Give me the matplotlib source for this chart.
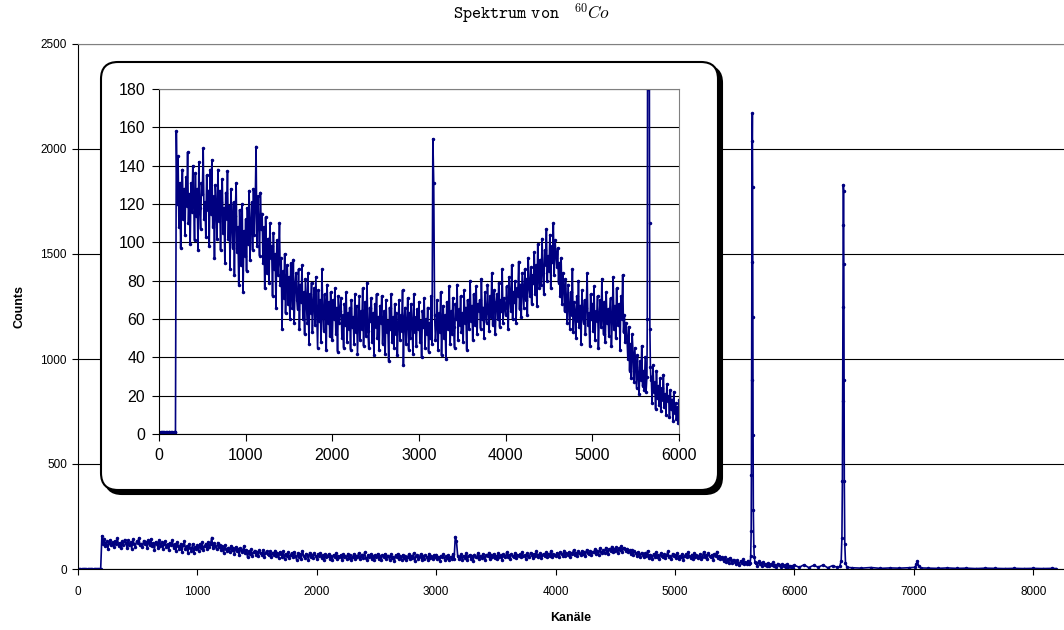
import numpy as np
import matplotlib
matplotlib.use('Agg')
import matplotlib.pyplot as plt
from matplotlib.patches import FancyBboxPatch

plt.rcParams['font.family'] = ['Liberation Sans', 'DejaVu Sans']
plt.rcParams['mathtext.fontset'] = 'cm'

# --- spectrum (channel -> counts) ---
# below threshold, channels 0..190
zero_ch = np.arange(0, 200, 10)
zero_counts = [1, 0, 1, 1, 0, 1, 1, 0, 1, 1, 0, 1, 1, 0, 1, 1, 0, 1, 1, 1]

# continuum, channels 200..5620 every 10 (noisy, one row = 100 channels)
cont_ch = np.arange(200, 5630, 10)
cont_counts = [
    158, 120, 145, 108, 131, 97, 124, 138, 112, 128,
    104, 134, 119, 147, 110, 125, 99, 131, 116, 140,
    122, 101, 136, 114, 128, 96, 142, 118, 107, 131,
    125, 149, 112, 121, 103, 135, 117, 127, 98, 138,
    115, 143, 108, 124, 92, 130, 119, 102, 138, 111,
    127, 96, 121, 133, 105, 118, 89, 126, 112, 137,
    102, 119, 86, 128, 110, 97, 121, 83, 114, 131,
    95, 108, 78, 117, 101, 88, 120, 74, 106, 93,
    112, 85, 118, 99, 127, 91, 109, 121, 96, 128,
    104, 119, 150, 98, 124, 111, 93, 126, 107, 115,
    89, 108, 76, 113, 95, 84, 102, 79, 110, 92,
    98, 72, 105, 86, 94, 66, 101, 83, 90, 110,
    78, 92, 55, 85, 71, 94, 63, 80, 88, 68,
    82, 60, 89, 74, 66, 91, 58, 77, 84, 70,
    65, 86, 55, 78, 69, 88, 60, 74, 52, 81,
    70, 58, 84, 47, 73, 63, 79, 53, 68, 76,
    57, 82, 64, 45, 75, 59, 70, 48, 86, 62,
    54, 73, 66, 44, 78, 58, 69, 51, 74, 63,
    49, 70, 60, 76, 52, 66, 43, 72, 58, 64,
    71, 50, 62, 45, 68, 57, 74, 48, 63, 55,
    66, 44, 70, 56, 61, 47, 73, 53, 67, 42,
    58, 72, 49, 64, 55, 76, 46, 62, 69, 51,
    79, 54, 45, 66, 59, 71, 48, 63, 41, 68,
    56, 73, 50, 61, 44, 67, 58, 72, 47, 60,
    64, 42, 70, 53, 59, 38, 66, 55, 73, 48,
    61, 45, 68, 52, 63, 41, 57, 70, 49, 62,
    54, 75, 36, 60, 66, 47, 58, 71, 44, 63,
    50, 68, 57, 42, 73, 53, 61, 46, 65, 55,
    69, 48, 59, 40, 64, 56, 71, 45, 60, 52,
    66, 43, 58, 50, 72, 47, 154, 131, 62, 49,
    57, 70, 44, 63, 53, 74, 41, 60, 67, 50,
    62, 39, 69, 55, 58, 77, 47, 64, 52, 71,
    56, 45, 68, 60, 78, 49, 65, 57, 72, 53,
    63, 48, 75, 58, 66, 44, 70, 61, 55, 80,
    59, 67, 49, 73, 62, 57, 77, 52, 68, 64,
    70, 55, 81, 60, 66, 50, 74, 63, 58, 78,
    65, 54, 72, 61, 84, 57, 69, 75, 52, 67,
    73, 60, 79, 56, 70, 64, 86, 58, 71, 66,
    62, 77, 68, 55, 82, 71, 64, 88, 60, 74,
    69, 80, 58, 76, 72, 90, 65, 78, 61, 84,
    75, 66, 86, 70, 81, 62, 92, 77, 72, 87,
    68, 83, 79, 95, 73, 88, 67, 99, 82, 76,
    91, 78, 102, 84, 73, 96, 88, 107, 80, 93,
    85, 104, 76, 98, 90, 110, 83, 101, 94, 87,
    97, 79, 89, 72, 92, 68, 84, 76, 64, 81,
    71, 58, 78, 66, 55, 74, 62, 86, 53, 69,
    64, 50, 72, 59, 80, 56, 67, 47, 75, 61,
    58, 70, 52, 66, 84, 57, 63, 46, 73, 60,
    68, 54, 77, 49, 64, 59, 72, 45, 62, 70,
    56, 81, 60, 52, 69, 48, 74, 58, 65, 51,
    63, 71, 46, 59, 82, 55, 67, 50, 76, 61,
    57, 68, 44, 72, 60, 83, 53, 62, 48, 58,
    50, 39, 56, 33, 47, 29, 52, 42, 27, 45,
    35, 24, 41, 30, 21, 38, 28, 46, 25, 33,
    23, 40, 22,
]

# first photo peak
peak1_ch = [5630, 5634, 5638, 5640, 5642, 5644, 5646, 5648, 5650, 5652, 5654, 5656, 5660, 5664, 5670, 5676]
peak1_counts = [30, 60, 180, 450, 900, 1460, 2040, 2170, 1820, 1200, 640, 280, 110, 55, 35, 28]

# between the peaks
after1_ch = np.arange(5680, 6000, 10)
after1_counts = [
    30, 16, 36, 22, 27, 13, 33, 19, 25, 15,
    29, 12, 24, 18, 31, 14, 21, 10, 26, 17,
    20, 9, 23, 13, 18, 7, 22, 11, 16, 8,
    14, 6,
]
mid_ch = np.arange(6000, 6400, 40)
mid_counts = [18, 8, 20, 7, 17, 9, 19, 6, 16, 8]

# second photo peak
peak2_ch = [6380, 6392, 6398, 6402, 6404, 6406, 6408, 6410, 6412, 6414, 6416, 6418, 6422, 6428, 6440]
peak2_counts = [12, 40, 150, 420, 800, 1250, 1640, 1830, 1800, 1450, 900, 420, 120, 30, 8]

# tail with small sum peak
tail_ch = [6480, 6560, 6640, 6720, 6800, 6880, 6960, 7010, 7020, 7030, 7040, 7060, 7120, 7200,
           7280, 7360, 7440, 7520, 7600, 7680, 7760, 7840, 7920, 8000, 8080, 8160, 8190]
tail_counts = [6, 4, 7, 3, 5, 4, 6, 8, 22, 38, 15, 5, 4, 3, 5, 3, 4, 2, 4, 3, 2, 3, 2, 3, 2, 3, 2]

main_yticks = [0, 500, 1000, 1500, 2000, 2500]
main_xticks = [0, 1000, 2000, 3000, 4000, 5000, 6000, 7000, 8000]
inset_yticks = [0, 20, 40, 60, 80, 100, 120, 140, 160, 180]
inset_xticks = [0, 1000, 2000, 3000, 4000, 5000, 6000]

LINE = '#000080'


def spectrum():
    ch = np.concatenate([zero_ch, cont_ch, peak1_ch, after1_ch, mid_ch, peak2_ch, tail_ch])
    cnt = np.concatenate([zero_counts, cont_counts, peak1_counts, after1_counts,
                          mid_counts, peak2_counts, tail_counts])
    order = np.argsort(ch, kind='stable')
    return ch[order], cnt[order]


def style_axes(ax, fs, ticklen, pad):
    ax.spines['left'].set_color('black')
    ax.spines['bottom'].set_color('black')
    ax.spines['top'].set_color('#808080')
    ax.spines['right'].set_color('#808080')
    ax.tick_params(direction='out', length=ticklen, width=0.8, labelsize=fs,
                   colors='black', pad=pad)
    ax.yaxis.grid(True, color='black', lw=0.8)
    ax.set_axisbelow(True)


ch, cnt = spectrum()

fig = plt.figure(figsize=(10.64, 6.30), dpi=100)

# main axes
ax = fig.add_axes([78 / 1064, 61 / 630, 986 / 1064, 525 / 630])
ax.plot(ch, cnt, color=LINE, lw=1.2, marker='.', ms=3)
ax.set_xlim(0, 8258)
ax.set_ylim(0, 2500)
ax.set_xticks(main_xticks)
ax.set_yticks(main_yticks)
style_axes(ax, 8.5, 4, 4)
ax.tick_params(axis='x', pad=8)
ax.spines['right'].set_visible(False)
ax.set_xlabel('Kanäle', fontsize=9, fontweight='bold', labelpad=10)
ax.set_ylabel('Counts', fontsize=9, fontweight='bold', labelpad=11)

fig.text(0.5, 0.978, r'$\mathtt{Spektrum\ von}\ \ \ {}^{60}Co$',
         ha='center', va='center', fontsize=12.5)

# rounded frame with shadow behind the inset
bx0, by0, bw, bh = 1.01, 1.40, 6.17, 4.28
shadow = FancyBboxPatch((bx0 + 0.04, by0 - 0.04), bw, bh,
                        boxstyle='round,pad=0,rounding_size=0.17',
                        transform=fig.dpi_scale_trans, facecolor='black',
                        edgecolor='black', lw=1.5, zorder=2)
frame = FancyBboxPatch((bx0, by0), bw, bh,
                       boxstyle='round,pad=0,rounding_size=0.17',
                       transform=fig.dpi_scale_trans, facecolor='white',
                       edgecolor='black', lw=1.5, zorder=3)
fig.patches.extend([shadow, frame])

# zoomed inset
ins = fig.add_axes([159 / 1064, 196 / 630, 520 / 1064, 345 / 630], zorder=5)
ins.plot(ch, cnt, color=LINE, lw=1.2, marker='.', ms=3)
ins.set_xlim(0, 6000)
ins.set_ylim(0, 180)
ins.set_xticks(inset_xticks)
ins.set_yticks(inset_yticks)
style_axes(ins, 11.5, 5, 5)

fig.savefig('out.png', dpi=100)
